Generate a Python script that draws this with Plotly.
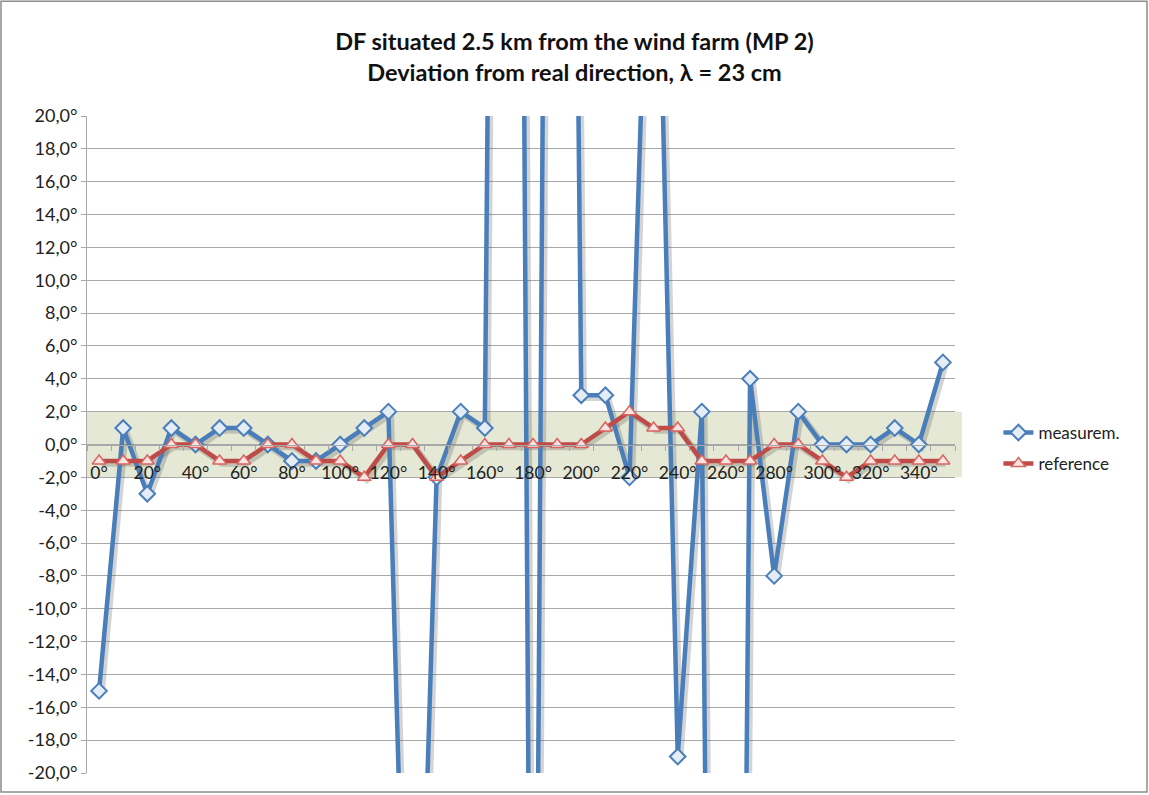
import plotly.graph_objects as go

# Bearing of the transmitter (category axis)
directions = ["0°", "10°", "20°", "30°", "40°", "50°", "60°", "70°", "80°", "90°",
              "100°", "110°", "120°", "130°", "140°", "150°", "160°", "170°", "180°", "190°",
              "200°", "210°", "220°", "230°", "240°", "250°", "260°", "270°", "280°", "290°",
              "300°", "310°", "320°", "330°", "340°", "350°"]

# Deviation from the real direction, degrees
measurem = [-15, 1, -3, 1, 0, 1, 1, 0, -1, -1,
            0, 1, 2, -50, -2, 2, 1, 170, -66, 150,
            3, 3, -2, 45, -19, 2, -160, 4, -8, 2,
            0, 0, 0, 1, 0, 5]
reference = [-1, -1, -1, 0, 0, -1, -1, 0, 0, -1,
             -1, -2, 0, 0, -2, -1, 0, 0, 0, 0,
             0, 1, 2, 1, 1, -1, -1, -1, 0, 0,
             -1, -2, -1, -1, -1, -1]

# Tolerance band and axis ticks
band_low, band_high = -2, 2
y_ticks = [-20, -18, -16, -14, -12, -10, -8, -6, -4, -2, 0, 2, 4, 6, 8, 10, 12, 14, 16, 18, 20]
y_tick_text = [f"{v:.1f}°".replace(".", ",") for v in y_ticks]
x_tick_text = [d if i % 2 == 0 else "" for i, d in enumerate(directions)]

FONT = "Lato, 'Open Sans', sans-serif"
BLUE = "#4A7EBB"
RED = "#BE4B48"
GRID = "#A8A8A8"
SHADOW = "rgba(60,60,60,0.22)"

X_RANGE = [-0.5, 35.5]
Y_RANGE = [-20, 20]
# Drop-shadow axes: same scale, nudged a few pixels right and down
SHIFT_X = 0.1
SHIFT_Y = 0.15

fig = go.Figure()

# Soft shadows under the series lines
for vals in (measurem, reference):
    fig.add_trace(go.Scatter(
        x=directions, y=vals, mode="lines", xaxis="x2", yaxis="y2",
        line=dict(color=SHADOW, width=6.5), showlegend=False, hoverinfo="skip",
    ))

fig.add_trace(go.Scatter(
    x=directions, y=measurem, name="measurem.", mode="lines+markers",
    xaxis="x3", yaxis="y3",
    line=dict(color=BLUE, width=4.5),
    marker=dict(symbol="diamond", size=12, color="#E4ECF6",
                line=dict(color=BLUE, width=2)),
    legendgroup="m",
))
fig.add_trace(go.Scatter(
    x=directions, y=reference, name="reference", mode="lines+markers",
    xaxis="x3", yaxis="y3",
    line=dict(color=RED, width=4.5),
    marker=dict(symbol="triangle-up", size=12, color="#F8E4E2",
                line=dict(color="#D9645F", width=1.5)),
    legendgroup="r",
))

# Shaded band of acceptable deviation
fig.add_shape(type="rect", xref="paper", yref="y", x0=0, x1=1.008,
              y0=band_low, y1=band_high, fillcolor="#E5E8D4",
              line=dict(width=0), layer="below")

# Outer frame of the chart area
fig.add_shape(type="rect", xref="paper", yref="paper",
              x0=(1 - 87) / 868, x1=(1147 - 87) / 868,
              y0=(775 - 794) / 659, y1=(775 - 1) / 659,
              line=dict(color="#8C8C8C", width=1.5), fillcolor="rgba(0,0,0,0)")

fig.update_layout(
    width=1149, height=795,
    margin=dict(l=87, r=194, t=116, b=20),
    paper_bgcolor="white", plot_bgcolor="white",
    font=dict(family=FONT, color="#222222", size=16),
    title=dict(
        text="<b>DF situated 2.5 km from the wind farm (MP 2)<br>Deviation from real direction, λ = 23 cm</b>",
        x=0.5, xanchor="center", xref="container",
        y=1 - 50 / 795, yanchor="middle",
        font=dict(family=FONT, size=23.5, color="#111111"),
    ),
    showlegend=True,
    legend=dict(x=1.05, xanchor="left", y=0.545, yanchor="top",
                font=dict(family=FONT, size=17, color="#222222"),
                bgcolor="rgba(0,0,0,0)", tracegroupgap=6, traceorder="grouped"),
    xaxis=dict(
        type="category", range=X_RANGE, categoryarray=directions,
        tickmode="array", tickvals=directions, ticktext=x_tick_text,
        tickson="boundaries", ticks="outside", ticklen=5, tickcolor=GRID,
        tickangle=0, ticklabelstandoff=12,
        showline=True, linecolor=GRID, linewidth=1,
        showgrid=False, zeroline=False,
        anchor="free", position=0.5,
        tickfont=dict(family=FONT, size=17.5, color="#222222"),
    ),
    yaxis=dict(
        range=Y_RANGE, tickmode="array", tickvals=y_ticks, ticktext=y_tick_text,
        ticks="outside", ticklen=5, tickcolor=GRID,
        showline=True, linecolor=GRID, linewidth=1,
        showgrid=True, gridcolor=GRID, gridwidth=1, zeroline=False,
        tickfont=dict(family=FONT, size=18, color="#222222"),
    ),
    xaxis2=dict(type="category", categoryarray=directions, overlaying="x",
                range=[X_RANGE[0] - SHIFT_X, X_RANGE[1] - SHIFT_X], visible=False),
    yaxis2=dict(overlaying="y", range=[Y_RANGE[0] + SHIFT_Y, Y_RANGE[1] + SHIFT_Y],
                visible=False),
    xaxis3=dict(type="category", categoryarray=directions, overlaying="x",
                range=X_RANGE, visible=False),
    yaxis3=dict(overlaying="y", range=Y_RANGE, visible=False),
)

fig.write_html("out.html")
